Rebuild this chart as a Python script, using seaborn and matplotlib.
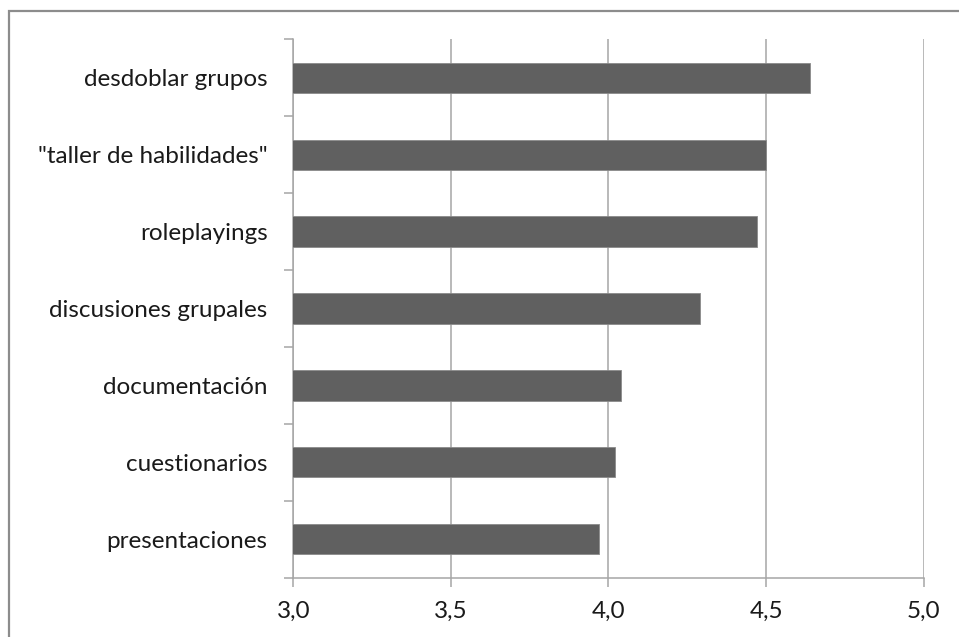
import matplotlib
matplotlib.use("Agg")
import matplotlib.pyplot as plt
import seaborn as sns
import pandas as pd
import numpy as np
from matplotlib.patches import Rectangle

categories = ["desdoblar grupos", '"taller de habilidades"', "roleplayings",
              "discusiones grupales", "documentación", "cuestionarios", "presentaciones"]
values = [4.64, 4.50, 4.47, 4.29, 4.04, 4.02, 3.97]
x_ticks = [3.0, 3.5, 4.0, 4.5, 5.0]
x_tick_labels = ["3,0", "3,5", "4,0", "4,5", "5,0"]

sns.set_style("white")
plt.rcParams['font.family'] = ['Lato', 'DejaVu Sans']

df = pd.DataFrame({"cat": categories, "val": values})

fig = plt.figure(figsize=(9.59, 6.37), dpi=100)
ax = fig.add_axes([0.3058, 0.0931, 0.9632 - 0.3058, 0.9383 - 0.0931])

sns.barplot(data=df, y="cat", x="val", order=categories, orient="h",
            color="#606060", saturation=1, width=0.394, ax=ax,
            edgecolor="#8a8a8a", linewidth=0.6, zorder=3)

ax.set_xlim(3.0, 5.0)
ax.set_xticks(x_ticks)
ax.set_xticklabels(x_tick_labels)
ax.set_xlabel("")
ax.set_ylabel("")

grid_c = "#a6a6a6"
ax.grid(axis="x", color=grid_c, linewidth=1.1, zorder=0)
ax.set_axisbelow(True)
for s in ["top", "right"]:
    ax.spines[s].set_visible(False)
for s in ["left", "bottom"]:
    ax.spines[s].set_visible(True)
    ax.spines[s].set_color(grid_c)
    ax.spines[s].set_linewidth(1.1)

ax.set_yticks(np.arange(-0.5, len(categories)), minor=True)
ax.tick_params(axis="y", which="major", length=0, pad=18.5, labelsize=17.5, labelcolor="#1a1a1a")
ax.tick_params(axis="y", which="minor", length=6.5, width=1.1, color=grid_c, left=True)
ax.tick_params(axis="x", which="major", length=6.5, width=1.1, color=grid_c, bottom=True,
               pad=10, labelsize=17.5, labelcolor="#1a1a1a")

fig.patches.append(Rectangle((9.3 / 959, -0.1), 1.2, 1 - 11 / 637 + 0.1,
                             transform=fig.transFigure, fill=False,
                             edgecolor="#8c8c8c", linewidth=1.6))

fig.savefig("out.png", dpi=100)
